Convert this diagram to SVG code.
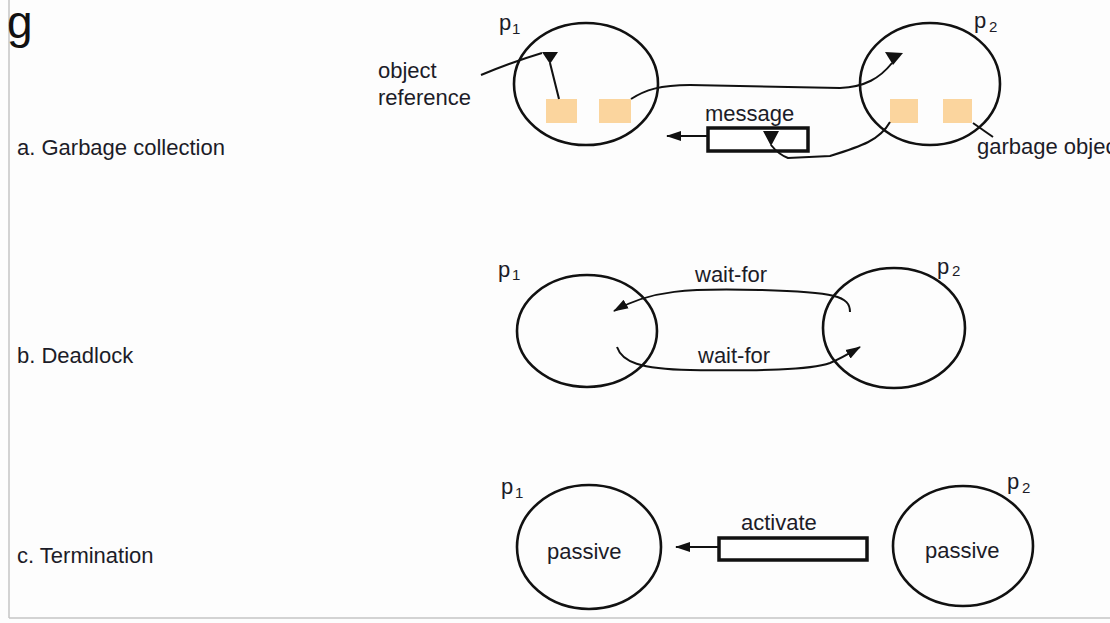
<svg xmlns="http://www.w3.org/2000/svg" width="1110" height="623" viewBox="0 0 1110 623">
<style>
text{font-family:"Liberation Sans",Arial,sans-serif;fill:#1c1c28;font-size:22px}
.node{fill:none;stroke:#111;stroke-width:2.6}
.obj{fill:#fbd59e}
.conn{fill:none;stroke:#111;stroke-width:2}
.box{fill:#fff;stroke:#111;stroke-width:3.5}
.tri{fill:#111}
.p{font-size:22px}
.sub{font-size:15px}
.lbl{font-size:22px}
</style>
<defs>
<marker id="arr" markerUnits="userSpaceOnUse" markerWidth="15" markerHeight="12" refX="14" refY="5" orient="auto" viewBox="0 0 15 10">
<path d="M0,0 L15,5 L0,10 z" fill="#111"/>
</marker>
</defs>
<rect x="0" y="0" width="1110" height="623" fill="#fdfdfd"/>
<line x1="9" y1="0" x2="9" y2="618" stroke="#c4c4c4" stroke-width="1.5"/>
<line x1="9" y1="618" x2="1110" y2="618" stroke="#c4c4c4" stroke-width="1.5"/>
<text x="7" y="38" style="font-size:46px;fill:#111">g</text>
<g id="labels">
<text x="17" y="155" class="lbl">a. Garbage collection</text>
<text x="17" y="363" class="lbl">b. Deadlock</text>
<text x="17" y="563" class="lbl">c. Termination</text>
</g>
<!-- a. Garbage collection -->
<g id="a-p1">
<ellipse cx="586" cy="84" rx="72" ry="61" class="node"/>
<text x="499" y="30" class="p">p</text><text x="512" y="34" class="sub">1</text>
<rect x="546" y="99" width="31" height="24" class="obj"/>
<rect x="599" y="99" width="32" height="24" class="obj"/>
</g>
<g id="a-p2">
<ellipse cx="930" cy="84" rx="70" ry="61" class="node"/>
<text x="974" y="28" class="p">p</text><text x="989" y="32" class="sub">2</text>
<rect x="890" y="99" width="28" height="24" class="obj"/>
<rect x="943" y="99" width="29" height="24" class="obj"/>
</g>
<g id="a-message">
<rect x="708" y="128" width="100" height="23" class="box"/>
<text x="705" y="121">message</text>
</g>
<g id="a-texts">
<text x="378" y="78">object</text>
<text x="378" y="105">reference</text>
<text x="977" y="154">garbage object</text>
</g>
<g id="connectors">
<!-- section a -->
<path d="M481,75 Q512,62 542,53" class="conn"/>
<polygon points="542,52 558,52 550,64" class="tri"/>
<line x1="550" y1="63" x2="559" y2="99" class="conn"/>
<path d="M631,99 C645,90 660,85 690,85 L840,88 C865,87 880,78 892,63" class="conn"/>
<polygon points="885,52 903,53 893,65" class="tri"/>
<path d="M890,122 C880,140 862,146 830,156 L788,158 C780,155 775,150 771,145" class="conn"/>
<polygon points="763,131 779,131 771,146" class="tri"/>
<line x1="973" y1="123" x2="993" y2="137" class="conn"/>
<line x1="707" y1="136" x2="667" y2="136" class="conn" stroke-width="3" marker-end="url(#arr)"/>
<!-- section b -->
<path d="M850,312 C850,296 835,292 760,290 C690,288 650,290 614,311" class="conn" marker-end="url(#arr)"/>
<path d="M617,347 C622,362 640,369 690,370 C760,371 810,370 830,363 C842,358 850,353 860,347" class="conn" marker-end="url(#arr)"/>
<!-- section c -->
<line x1="718" y1="547" x2="676" y2="547" class="conn" stroke-width="3" marker-end="url(#arr)"/>
</g>
<!-- b. Deadlock -->
<g id="b-p1">
<ellipse cx="587" cy="331" rx="70" ry="56" class="node"/>
<text x="498" y="277" class="p">p</text><text x="512" y="280" class="sub">1</text>
</g>
<g id="b-p2">
<ellipse cx="894" cy="328" rx="71" ry="60" class="node"/>
<text x="937" y="274" class="p">p</text><text x="952" y="276" class="sub">2</text>
</g>
<g id="b-labels">
<text x="695" y="282">wait-for</text>
<text x="698" y="363">wait-for</text>
</g>
<!-- c. Termination -->
<g id="c-p1">
<ellipse cx="589" cy="547" rx="72" ry="62" class="node"/>
<text x="501" y="494" class="p">p</text><text x="515" y="498" class="sub">1</text>
<text x="547" y="559">passive</text>
</g>
<g id="c-activate">
<rect x="719" y="538" width="148" height="22" class="box"/>
<text x="741" y="530">activate</text>
</g>
<g id="c-p2">
<ellipse cx="963" cy="546" rx="70" ry="60" class="node"/>
<text x="1007" y="489" class="p">p</text><text x="1022" y="493" class="sub">2</text>
<text x="925" y="558">passive</text>
</g>
</svg>
